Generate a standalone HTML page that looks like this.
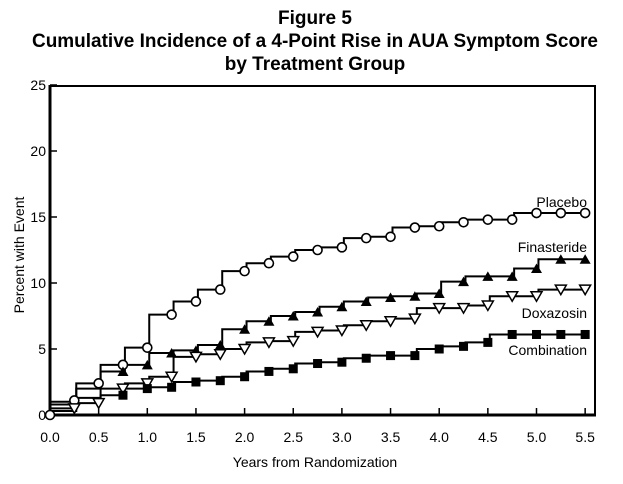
<!DOCTYPE html>
<html><head><meta charset="utf-8"><style>
body{margin:0;background:#fff;}
svg text{font-family:"Liberation Sans",Arial,sans-serif;}
</style></head><body>
<svg id="s" width="623" height="479" viewBox="0 0 623 479" xmlns="http://www.w3.org/2000/svg">
<rect width="623" height="479" fill="#fff"/>
<text x="315" y="24" font-size="19" font-weight="bold" text-anchor="middle">Figure 5</text>
<text x="315" y="47" font-size="19" font-weight="bold" text-anchor="middle" textLength="566" lengthAdjust="spacingAndGlyphs">Cumulative Incidence of a 4-Point Rise in AUA Symptom Score</text>
<text x="315" y="70" font-size="19" font-weight="bold" text-anchor="middle">by Treatment Group</text>
<g id="g"></g>
<text x="24" y="255" font-size="14" text-anchor="middle" transform="rotate(-90 24 255)">Percent with Event</text>
<text x="315" y="467" font-size="14" text-anchor="middle">Years from Randomization</text>
<text x="587" y="207" font-size="14" text-anchor="end">Placebo</text>
<text x="587" y="252" font-size="14" text-anchor="end">Finasteride</text>
<text x="587" y="318" font-size="14" text-anchor="end">Doxazosin</text>
<text x="587" y="355" font-size="14" text-anchor="end">Combination</text>
</svg>
<script>
var g=document.getElementById('g'),h='';
function X(t){return 50+t*97.3}
function Y(v){return 415-v*13.2}
h+='<rect x="50" y="86" width="545" height="329" fill="none" stroke="#000" stroke-width="2"/>';
h+='<line x1="50" y1="85" x2="50" y2="416.5" stroke="#000" stroke-width="3"/>';
h+='<line x1="48.5" y1="415" x2="596" y2="415" stroke="#000" stroke-width="3"/>';
for(var i=0;i<=5;i++){var y=Y(i*5);h+='<line x1="50" y1="'+y+'" x2="57" y2="'+y+'" stroke="#000" stroke-width="1.5"/>';
h+='<text x="46" y="'+(y+5)+'" font-size="14" text-anchor="end">'+(i*5)+'</text>';}
for(var i=0;i<=11;i++){var x=X(i*0.5);h+='<line x1="'+x+'" y1="415" x2="'+x+'" y2="408" stroke="#000" stroke-width="1.5"/>';
h+='<text x="'+x+'" y="442" font-size="14" text-anchor="middle">'+(i*0.5).toFixed(1)+'</text>';}
var S={
p:[0,1.1,2.4,3.8,5.1,7.6,8.6,9.5,10.9,11.5,12.0,12.5,12.7,13.4,13.5,14.2,14.3,14.6,14.8,14.8,15.3,15.3,15.3],
f:[0.8,0.8,2.0,3.3,3.8,4.7,4.9,5.3,6.5,7.1,7.5,7.8,8.2,8.6,8.9,9.0,9.2,10.1,10.5,10.5,11.1,11.8,11.8],
d:[0.5,0.5,0.9,2.0,2.4,2.9,4.4,4.6,5.0,5.5,5.6,6.3,6.4,6.8,7.1,7.3,8.1,8.1,8.3,9.0,9.0,9.5,9.5],
c:[0.3,0.3,1.3,1.5,2.0,2.1,2.5,2.6,2.9,3.3,3.5,3.9,4.0,4.3,4.5,4.5,5.0,5.2,5.5,6.1,6.1,6.1,6.1]};
var start={p:1.0,f:0.8,d:0.5,c:0.3};
var skip={p:[],f:[0,1,2],d:[0],c:[0,1,2]};
function path(a,k){var d='M'+X(0)+' '+Y(start[k]);var lv=start[k];
for(var i=0;i<a.length;i++){var t=i*0.25;var nl=(i+1<a.length)?a[i+1]:a[i];
if(i==0){d+=' L'+X(0.27)+' '+Y(lv);continue;}
d+=' L'+X(t+0.02)+' '+Y(lv);lv=nl;d+=' L'+X(t+0.02)+' '+Y(lv);}
d+=' L'+X(5.5)+' '+Y(lv);
return '<path d="'+d+'" fill="none" stroke="#000" stroke-width="2"/>';}
for(var k in S){h+=path(S[k],k);}
for(var k in S){var a=S[k];for(var i=0;i<a.length;i++){if(skip[k].indexOf(i)>=0)continue;var x=X(i*0.25),y=Y(a[i]);
if(k=='p')h+='<circle cx="'+x+'" cy="'+y+'" r="4.5" fill="#fff" stroke="#000" stroke-width="1.6"/>';
if(k=='f')h+='<polygon points="'+(x-5.5)+','+(y+4.5)+' '+(x+5.5)+','+(y+4.5)+' '+x+','+(y-5)+'" fill="#000"/>';
if(k=='d')h+='<polygon points="'+(x-5.5)+','+(y-4.5)+' '+(x+5.5)+','+(y-4.5)+' '+x+','+(y+5)+'" fill="#fff" stroke="#000" stroke-width="1.5"/>';
if(k=='c')h+='<rect x="'+(x-4.5)+'" y="'+(y-4.5)+'" width="9" height="9" fill="#000"/>';}}
g.innerHTML=h;
</script>
</body></html>
